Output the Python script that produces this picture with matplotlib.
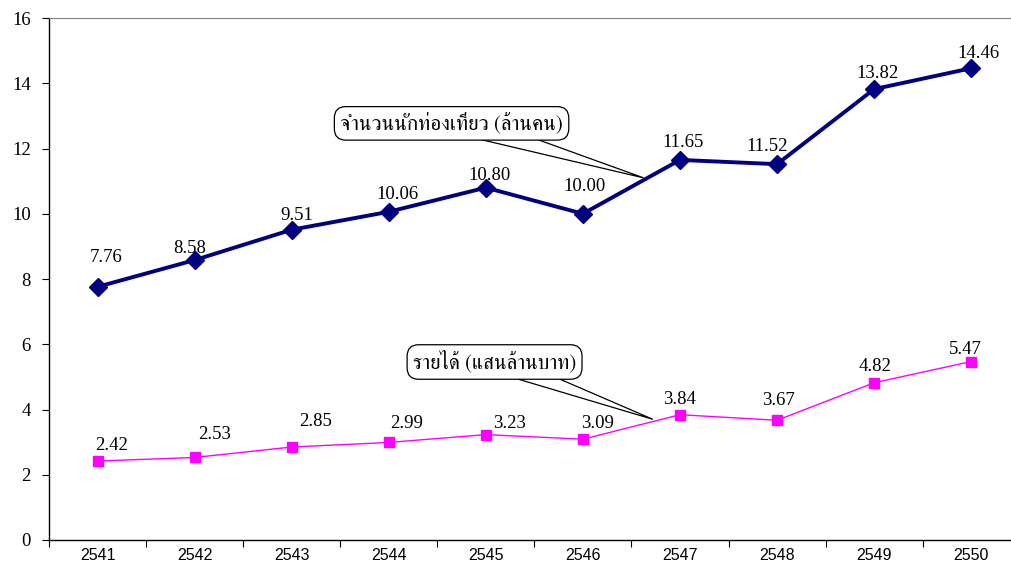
import matplotlib
matplotlib.use("Agg")
import matplotlib.pyplot as plt
from matplotlib.patches import Polygon
import numpy as np

years = ["2541", "2542", "2543", "2544", "2545", "2546", "2547", "2548", "2549", "2550"]
visitors = [7.76, 8.58, 9.51, 10.06, 10.80, 10.00, 11.65, 11.52, 13.82, 14.46]
revenue = [2.42, 2.53, 2.85, 2.99, 3.23, 3.09, 3.84, 3.67, 4.82, 5.47]
visitors_label = "จำนวนนักท่องเที่ยว (ล้านคน)"
revenue_label = "รายได้ (แสนล้านบาท)"

# value label offsets in pixels (dx, dy up), nudged by hand in the original
vis_off = [(9, 29), (-5, 12), (5, 14), (9, 17), (4, 12), (2, 27), (3, 17), (-10, 18), (3, 16), (7, 15)]
rev_off = [(14, 16), (20, 23), (24, 26), (18, 19), (24, 11), (15, 16), (0, 15), (1, 20), (1, 16), (-6, 12)]

SERIF = ["Liberation Serif", "FreeSerif", "DejaVu Serif"]
THAI = ["FreeSerif", "Noto Serif Thai", "DejaVu Sans"]
PT = 72 / 100  # points per pixel at dpi 100

fig = plt.figure(figsize=(10.11, 5.67), dpi=100)
ax = fig.add_axes([49 / 1011, 27 / 567, 1 - 49 / 1011, 522 / 567])

x = np.arange(1, len(years) + 1)
ax.plot(x, visitors, color="#000080", lw=2.8, marker="D", ms=9.5, zorder=3)
ax.plot(x, revenue, color="#FF00FF", lw=1.0, marker="s", ms=6.5, zorder=3)

for vals, offs in ((visitors, vis_off), (revenue, rev_off)):
    for xi, v, (dx, dy) in zip(x, vals, offs):
        ax.annotate(f"{v:.2f}", (xi, v), xytext=(dx * PT, dy * PT), textcoords="offset points",
                    ha="center", va="center", fontsize=13.5, family=SERIF, zorder=2)

ax.set_yticks(range(0, 17, 2))
ax.set_xticks(x)
ax.set_xticklabels(years, fontsize=11.5, family=["Liberation Sans", "DejaVu Sans"])
ax.set_xticks(np.arange(0.5, 11, 1), minor=True)
ax.set_xlim(0.5, 10.41)
ax.set_ylim(0, 16)
ax.tick_params(axis="x", which="major", length=0, pad=6)
ax.tick_params(axis="x", which="minor", length=5, direction="out", width=0.8)
ax.tick_params(axis="y", length=5, direction="out", width=0.8, pad=8)
for lab in ax.get_yticklabels():
    lab.set_fontfamily(SERIF)
    lab.set_fontsize(13.5)

ax.spines["right"].set_visible(False)
ax.spines["top"].set_color("#808080")
ax.spines["left"].set_linewidth(1.0)
ax.spines["bottom"].set_linewidth(1.0)

# pixel -> data scale (axes geometry is fixed above)
sx = (10.41 - 0.5) / ax.bbox.width
sy = 16 / ax.bbox.height


def callout(text, center, tip, base):
    cx, cy = center
    b0, b1 = base
    tail = Polygon([(cx + b0 * sx, cy - 14 * sy), (cx + b1 * sx, cy - 14 * sy), tip],
                   closed=True, fc="white", ec="black", lw=0.9, zorder=4)
    ax.add_patch(tail)
    ax.text(cx, cy, text, ha="center", va="center", fontsize=15, family=THAI, zorder=5,
            bbox=dict(boxstyle="round,pad=0.28,rounding_size=0.55", fc="white", ec="black", lw=0.9))


callout(visitors_label, (4.647, 12.77), (6.625, 11.10), (20, 80))
callout(revenue_label, (5.09, 5.456), (6.72, 3.70), (13, 58))

fig.savefig("out.png", dpi=100)
